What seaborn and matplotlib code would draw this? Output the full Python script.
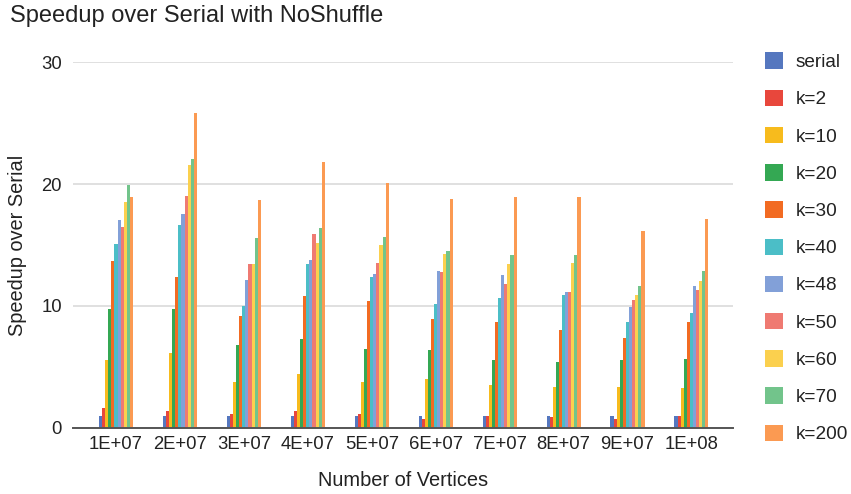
import matplotlib
matplotlib.use("Agg")
import matplotlib.pyplot as plt
from matplotlib.patches import Patch
import pandas as pd
import seaborn as sns

# Number of vertices (x categories)
vertices = ["1E+07", "2E+07", "3E+07", "4E+07", "5E+07",
            "6E+07", "7E+07", "8E+07", "9E+07", "1E+08"]

# Speedup over serial for each configuration
serial = [1.0, 1.0, 1.0, 1.0, 1.0, 1.0, 1.0, 1.0, 1.0, 1.0]
k2 = [1.58, 1.36, 1.12, 1.36, 1.12, 0.73, 1.0, 0.87, 0.73, 1.0]
k10 = [5.53, 6.12, 3.76, 4.38, 3.76, 4.0, 3.49, 3.38, 3.38, 3.27]
k20 = [9.75, 9.75, 6.75, 7.27, 6.5, 6.4, 5.53, 5.39, 5.53, 5.63]
k30 = [13.66, 12.41, 9.14, 10.78, 10.4, 8.9, 8.65, 8.0, 7.38, 8.65]
k40 = [15.05, 16.68, 10.02, 13.42, 12.41, 10.15, 10.64, 10.89, 8.65, 9.39]
k48 = [17.06, 17.55, 12.14, 13.8, 12.65, 12.9, 12.55, 11.13, 9.88, 11.65]
k50 = [16.44, 19.05, 13.42, 15.92, 13.53, 12.76, 11.79, 11.13, 10.51, 11.27]
k60 = [18.56, 21.55, 13.42, 15.16, 15.02, 14.29, 13.42, 13.53, 10.89, 12.03]
k70 = [19.95, 22.07, 15.57, 16.41, 15.67, 14.53, 14.15, 14.15, 11.65, 12.9]
k200 = [18.94, 25.85, 18.67, 21.8, 20.06, 18.81, 18.91, 18.91, 16.17, 17.15]

series_names = ["serial", "k=2", "k=10", "k=20", "k=30", "k=40",
                "k=48", "k=50", "k=60", "k=70", "k=200"]
series_values = [serial, k2, k10, k20, k30, k40, k48, k50, k60, k70, k200]
colors = ["#5577BF", "#E8473C", "#F7BB1D", "#34A853", "#F26B22", "#4BBEC7",
          "#82A0D8", "#EF7A72", "#FBD04E", "#72C48B", "#FB9A52"]

rows = []
for name, vals in zip(series_names, series_values):
    for v, s in zip(vertices, vals):
        rows.append({"vertices": v, "speedup": s, "series": name})
df = pd.DataFrame(rows)

sns.set_theme(style="white")
plt.rcParams["font.family"] = ["Liberation Sans", "DejaVu Sans"]
text_color = "#222222"

fig = plt.figure(figsize=(8.51, 4.94), dpi=100)
ax = fig.add_axes([73 / 851, 1 - 427.7 / 494, 660 / 851, 365.4 / 494])

sns.barplot(data=df, x="vertices", y="speedup", hue="series",
            hue_order=series_names, order=vertices,
            palette=colors, saturation=1, width=0.532, gap=0,
            linewidth=0, legend=False, ax=ax)

ax.set_ylim(0, 30)
ax.set_xlim(-0.672, 9.65)
ax.set_yticks([0, 10, 20, 30])
ax.yaxis.grid(True, color="#DADADA", linewidth=1.2)
ax.set_axisbelow(True)
for side in ["top", "right", "left"]:
    ax.spines[side].set_visible(False)
ax.spines["bottom"].set_color("#555555")
ax.spines["bottom"].set_linewidth(1.4)
ax.tick_params(axis="both", length=0, labelsize=13.3, colors=text_color)
ax.tick_params(axis="y", pad=8)
ax.tick_params(axis="x", pad=6)

ax.set_xlabel("Number of Vertices", fontsize=14.4, color=text_color)
ax.xaxis.set_label_coords(0.5, -0.118)
ax.set_ylabel("Speedup over Serial", fontsize=14.4, color=text_color)
ax.yaxis.set_label_coords(-0.07, 0.5)

fig.text(10 / 851, 1 - 5 / 494, "Speedup over Serial with NoShuffle",
         fontsize=17, color=text_color, ha="left", va="top")

handles = [Patch(facecolor=c, edgecolor="none") for c in colors]
fig.legend(handles, series_names, loc="upper left",
           bbox_to_anchor=(765 / 851, 1 - 52.5 / 494),
           frameon=False, fontsize=13.7, borderpad=0, borderaxespad=0,
           handlelength=0.95, handleheight=0.95, handletextpad=0.65,
           labelspacing=0.97, labelcolor=text_color)

fig.savefig("out.png", dpi=100)
